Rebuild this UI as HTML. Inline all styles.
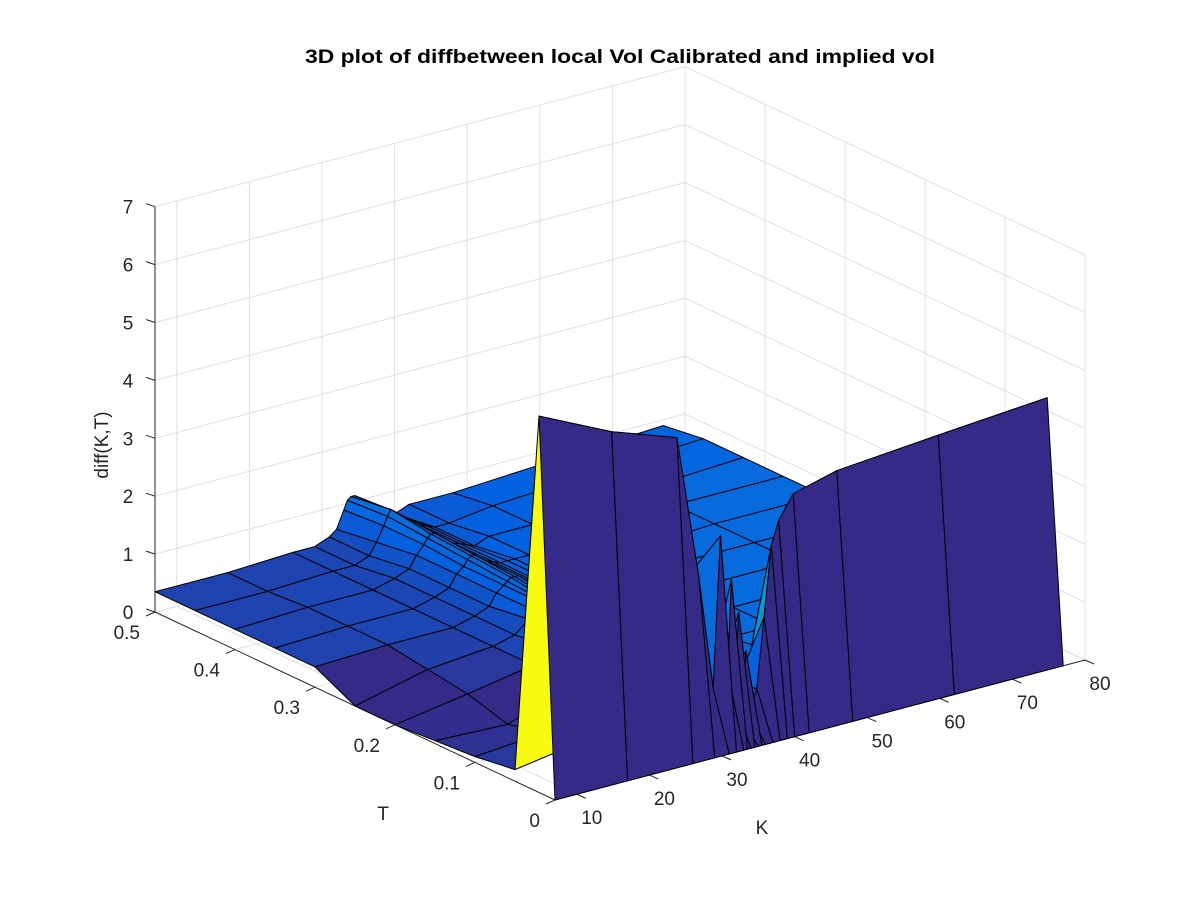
<!DOCTYPE html>
<html><head><meta charset="utf-8"><style>
html,body{margin:0;padding:0;background:#fff;}
svg{display:block;font-family:"Liberation Sans",Arial,sans-serif;}
</style></head><body>
<svg id="chart" width="1200" height="900" viewBox="0 0 1200 900">
<rect width="1200" height="900" fill="#ffffff"/>
<text x="620" y="63" text-anchor="middle" font-size="19" font-weight="bold" fill="#000" textLength="630" lengthAdjust="spacingAndGlyphs">3D plot of diffbetween local Vol Calibrated and implied vol</text>
<g id="grid"></g>
<g id="axes"></g>
<g id="surf"></g>
<text x="108" y="445" text-anchor="middle" font-size="19" fill="#262626" transform="rotate(-90 108 445)">diff(K,T)</text>
<text x="383" y="820" text-anchor="middle" font-size="19" fill="#262626">T</text>
<text x="762" y="834" text-anchor="middle" font-size="19" fill="#262626">K</text>
</svg>
<script>
const kGrid = [7,17,26,29,31,32,33,33.5,34,34.5,35,35.5,36,37,38,39,40,42,48,62,77];
const tGrid = [0,0.02,0.05,0.1,0.15,0.2,0.25,0.3,0.35,0.4,0.45,0.5];
const zRow0  = [0,0,0,0,0,0,0,0,0,0,0,0,0,0,0,0,0,0,0,0,0];
const zRow1  = [6.5,5.9,5.5,3.0,1.0,3.6,1.2,2.8,0.6,2.2,0.3,1.5,0.4,0.8,2.0,3.2,3.6,4.0,4.2,4.35,4.5];
const zRow2  = [0.2,0.4,0.9,1.2,1.6,2.9,1.0,0.8,0.6,0.6,0.6,0.6,0.6,0.7,0.8,0.9,1.0,1.1,1.1,1.1,1.1];
const zRow3  = [0.1,0.2,0.5,0.7,0.9,1.0,0.9,0.85,0.8,0.8,0.8,0.8,0.8,0.8,0.8,0.85,0.9,1.0,1.0,1.0,1.0];
const zRow4  = [0.05,0.0,0.4,0.6,0.8,0.9,0.9,0.85,0.8,0.8,0.8,0.8,0.8,0.8,0.8,0.85,0.9,0.9,1.0,1.0,1.0];
const zRow5  = [0.0,0.2,0.4,0.6,0.8,0.9,0.9,0.9,0.9,0.9,0.9,0.85,0.8,0.8,0.8,0.85,0.9,0.9,1.0,1.0,1.0];
const zRow6  = [0.0,0.3,0.4,0.5,0.7,0.8,0.9,0.9,0.9,0.9,0.9,0.85,0.8,0.8,0.8,0.85,0.9,0.9,1.0,1.0,1.0];
const zRow7  = [0.35,0.4,0.4,0.5,0.6,0.8,0.9,0.95,1.0,1.0,1.0,0.95,0.9,0.85,0.8,0.8,0.8,0.9,0.9,1.0,1.0];
const zRow8  = [0.35,0.4,0.4,0.5,0.6,0.8,0.9,1.0,1.05,1.05,1.0,0.95,0.9,0.85,0.8,0.8,0.8,0.8,0.9,1.0,1.0];
const zRow9  = [0.35,0.4,0.4,0.5,0.6,0.8,0.95,1.05,1.1,1.1,1.05,1.0,0.9,0.85,0.8,0.75,0.7,0.8,0.8,0.9,1.0];
const zRow10 = [0.35,0.35,0.4,0.4,0.5,0.7,0.95,1.1,1.2,1.15,1.1,1.0,0.9,0.85,0.8,0.75,0.7,0.7,0.8,0.9,1.0];
const zRow11 = [0.35,0.35,0.4,0.4,0.5,0.6,0.9,1.05,1.1,1.1,1.05,0.95,0.85,0.8,0.75,0.7,0.6,0.7,0.7,0.8,0.9];
const zRows = [zRow0,zRow1,zRow2,zRow3,zRow4,zRow5,zRow6,zRow7,zRow8,zRow9,zRow10,zRow11];
const zTicks = [0,1,2,3,4,5,6,7];
const tTicks = [0,0.1,0.2,0.3,0.4,0.5];
const kTicks = [10,20,30,40,50,60,70,80];

const NS = "http://www.w3.org/2000/svg";
const KMIN = 7, KMAX = 80, TMAX = 0.5, ZMAX = 7;
const OX = 555, OY = 800;
function proj(k, t, z) {
  const kf = (k - KMIN) / (KMAX - KMIN), tf = t / TMAX;
  return [OX + kf * 530 - tf * 400, OY - kf * 140 - tf * 188 - z * 57.9];
}
function el(tag, attrs, parent) {
  const e = document.createElementNS(NS, tag);
  for (const a in attrs) e.setAttribute(a, attrs[a]);
  parent.appendChild(e);
  return e;
}
const parulaStops = [[53,42,135],[3,99,225],[20,133,212],[6,167,198],[56,185,158],[146,191,115],[217,186,86],[252,206,46],[249,251,14]];
function parula(v) {
  v = Math.max(0, Math.min(1, v)) * (parulaStops.length - 1);
  const i = Math.min(Math.floor(v), parulaStops.length - 2), f = v - i;
  const a = parulaStops[i], b = parulaStops[i + 1];
  return "rgb(" + a.map((c, j) => Math.round(c + (b[j] - c) * f)).join(",") + ")";
}
const grid = document.getElementById("grid");
const axes = document.getElementById("axes");
const surf = document.getElementById("surf");
function line(p, q, color, parent, name) {
  const l = el("line", {x1: p[0], y1: p[1], x2: q[0], y2: q[1], stroke: color, "stroke-width": 1}, parent);
  
  
}
const GC = "#e0e0e0";
kTicks.forEach(k => line(proj(k, 0, 0), proj(k, TMAX, 0), GC, grid, "floor-grid-k"));
tTicks.forEach(t => line(proj(KMIN, t, 0), proj(KMAX, t, 0), GC, grid, "floor-grid-t"));
kTicks.forEach(k => line(proj(k, TMAX, 0), proj(k, TMAX, ZMAX), GC, grid, "back-wall-grid-k"));
zTicks.forEach(z => line(proj(KMIN, TMAX, z), proj(KMAX, TMAX, z), GC, grid, "back-wall-grid-z"));
tTicks.forEach(t => line(proj(KMAX, t, 0), proj(KMAX, t, ZMAX), GC, grid, "side-wall-grid-t"));
zTicks.forEach(z => line(proj(KMAX, 0, z), proj(KMAX, TMAX, z), GC, grid, "side-wall-grid-z"));

const AC = "#262626";
line(proj(KMIN, TMAX, 0), proj(KMIN, TMAX, ZMAX), AC, axes, "z-axis-line");
line(proj(KMIN, 0, 0), proj(KMIN, TMAX, 0), AC, axes, "t-axis-line");
line(proj(KMIN, 0, 0), proj(KMAX, 0, 0), AC, axes, "k-axis-line");
function label(txt, x, y, anchor, name) {
  const t = el("text", {x: x, y: y, "text-anchor": anchor, "font-size": 19, fill: AC}, axes);
  t.textContent = txt;
  
  
}
zTicks.forEach(z => {
  const p = proj(KMIN, TMAX, z);
  line(p, [p[0] - 9, p[1] - 3], AC, axes, "z-tick");
  label(String(z), p[0] - 27, p[1] + 7, "middle", "z-tick-label");
});
tTicks.forEach(t => {
  const p = proj(KMIN, t, 0);
  line(p, [p[0] - 9, p[1] + 4], AC, axes, "t-tick");
  label(String(t), p[0] - 15, p[1] + 27, "end", "t-tick-label");
});
kTicks.forEach(k => {
  const p = proj(k, 0, 0);
  line(p, [p[0] + 9, p[1] + 4], AC, axes, "k-tick");
  label(String(k), p[0] + 15, p[1] + 30, "middle", "k-tick-label");
});

let zmax = 0;
zRows.forEach(r => r.forEach(v => { if (v > zmax) zmax = v; }));
const faces = [];
for (let i = 0; i < tGrid.length - 1; i++) {
  for (let j = 0; j < kGrid.length - 1; j++) {
    const pts = [[i, j], [i, j + 1], [i + 1, j + 1], [i + 1, j]].map(([a, b]) => proj(kGrid[b], tGrid[a], zRows[a][b]));
    const tc = (tGrid[i] + tGrid[i + 1]) / 2 / TMAX;
    const kc = ((kGrid[j] + kGrid[j + 1]) / 2 - KMIN) / (KMAX - KMIN);
    faces.push({pts: pts, depth: tc + kc, color: parula(zRows[i][j] / zmax)});
  }
}
faces.sort((a, b) => b.depth - a.depth);
faces.forEach(f => {
  const p = el("polygon", {points: f.pts.map(q => q[0].toFixed(1) + "," + q[1].toFixed(1)).join(" "), fill: f.color, stroke: "#000", "stroke-width": 1, "stroke-linejoin": "round"}, surf);
  
  
});
</script>
</body></html>
